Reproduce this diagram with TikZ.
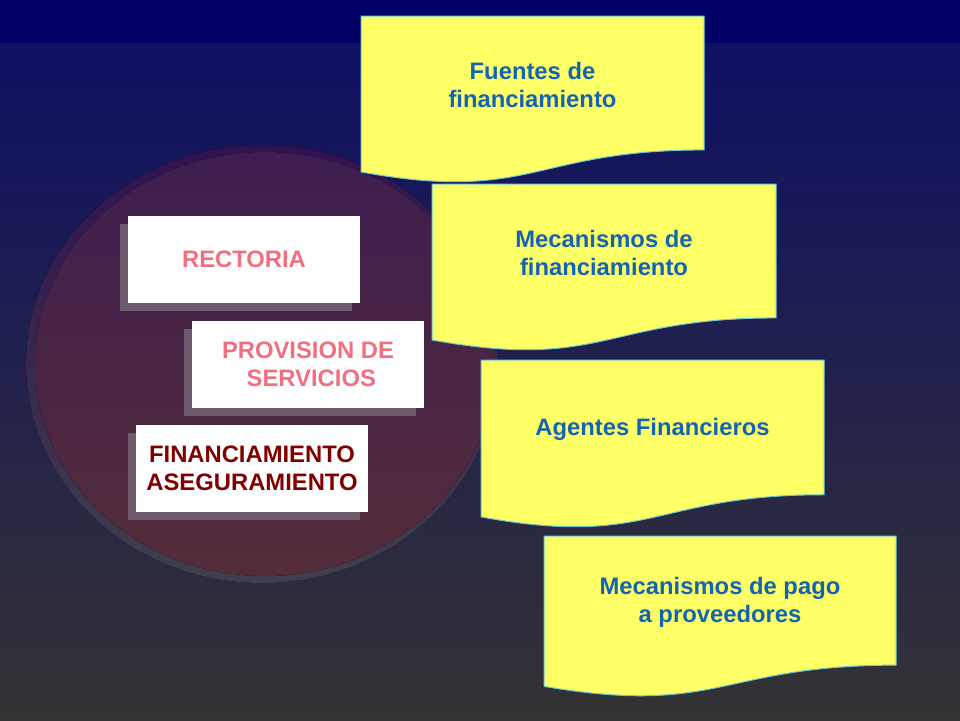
\documentclass[tikz,border=0pt]{standalone}
\usepackage{fontspec}
\setmainfont{Liberation Sans}
\usetikzlibrary{shadows}
\definecolor{bandcol}{RGB}{0,0,102}
\definecolor{bgtop}{RGB}{16,16,100}
\definecolor{bgbot}{RGB}{51,51,52}
\definecolor{ringtop}{RGB}{48,18,80}
\definecolor{ringbot}{RGB}{64,62,78}
\definecolor{circtop}{RGB}{62,30,80}
\definecolor{circbot}{RGB}{84,44,56}
\definecolor{shadowcol}{RGB}{110,92,110}
\definecolor{pinktxt}{RGB}{240,112,128}
\definecolor{redtxt}{RGB}{128,0,0}
\definecolor{bluetxt}{RGB}{20,100,180}
\definecolor{docfill}{RGB}{255,255,102}
\definecolor{docline}{RGB}{110,200,210}
\tikzset{
  whitebox/.style={fill=white, minimum width=232pt, minimum height=87pt,
    inner sep=0pt, align=center, font=\fontsize{23.8}{28}\selectfont\bfseries,
    general shadow={shadow xshift=-8pt, shadow yshift=-8pt, fill=shadowcol}},
  doctext/.style={align=center, text=bluetxt, inner sep=0pt,
    font=\fontsize{23.8}{28}\selectfont\bfseries},
  docshape/.style={fill=docfill, draw=docline, line width=1pt}
}
\newcommand{\yellowdoc}[6]{%
  \path[docshape] (#1,#2) -- ({#1+#3},#2) -- ({#1+#3},{#2+0.802*#4})
    .. controls ({#1+0.5*#3},{#2+0.802*#4}) and ({#1+0.5*#3},{#2+1.12*#4}) ..
    (#1,{#2+0.934*#4}) -- cycle;
  \node[doctext] (#5) at ({#1+0.5*#3},{#2+0.401*#4+2}) {#6};
}
\begin{document}
\begin{tikzpicture}[x=1pt,y=-1pt]
\useasboundingbox (0,0) rectangle (960,720);
% background
\fill[top color=bgtop, bottom color=bgbot] (0,43) rectangle (960,720);
\fill[bandcol] (0,0) rectangle (960,43);
% circle
\fill[top color=ringtop, bottom color=ringbot] (262,364) ellipse [x radius=236pt, y radius=219pt];
\fill[top color=circtop, bottom color=circbot] (265,364) ellipse [x radius=230pt, y radius=212pt];
% white boxes
\node[whitebox, text=pinktxt] (rect) at (244,259.5) {\raisebox{-1.5pt}{RECTORIA}};
\node[whitebox, text=pinktxt] (prov) at (308,364) {PROVISION DE\\ \ SERVICIOS};
\node[whitebox, text=redtxt] (fin) at (252,468) {FINANCIAMIENTO\\ASEGURAMIENTO};
% yellow documents
\yellowdoc{361}{16}{343}{167}{d1}{Fuentes de\\financiamiento}
\yellowdoc{432}{184}{344}{167}{d2}{Mecanismos de\\ financiamiento}
\yellowdoc{481}{360}{343}{168}{d3}{Agentes Financieros}
\yellowdoc{544}{536}{352}{161}{d4}{Mecanismos de pago\\ a proveedores}
\end{tikzpicture}
\end{document}
